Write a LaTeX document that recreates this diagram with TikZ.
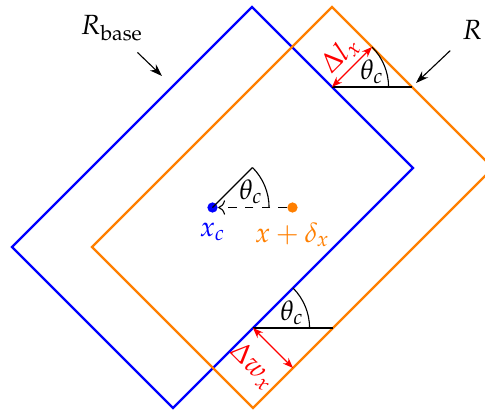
\documentclass[tikz,border=0pt]{standalone}
\usepackage{mathpazo}
\usetikzlibrary{arrows.meta, positioning, calc}
\definecolor{basecol}{RGB}{0, 0, 255}
\definecolor{shiftcol}{RGB}{255, 127, 0}

\begin{document}
\begin{tikzpicture}[
      x=0.36pt, y=0.36pt,
      rect/.style={line width=0.8pt, line join=miter},
      pointer/.style={-{Stealth[length=1.6mm, width=1.1mm]}, thin, shorten <=1pt},
      gap/.style={{Stealth[length=1.3mm, width=1mm]}-{Stealth[length=1.3mm, width=1mm]}, red, thin},
      dot/.style={circle, inner sep=0pt, minimum size=1.3mm}
    ]
    \useasboundingbox (0,0) rectangle (485,412);

    % the two boxes
    \coordinate (c)  at (212.5,204.5);
    \coordinate (cs) at (292.5,204.5);
    \draw[rect, basecol] (252,405) -- (413,244) -- (173,4) -- (12,165) -- cycle;
    \begin{scope}
      \clip (0,0) rectangle (485,412);
      \draw[rect, shiftcol] (332,405) -- (493,244) -- (253,4) -- (92,165) -- cycle;
    \end{scope}

    % centres
    \node[dot, fill=basecol]  (xc) at (c)  {};
    \node[dot, fill=shiftcol] (xs) at (cs) {};
    \node[basecol, below=0pt of xc] (xclab) {$x_c$};
    \node[shiftcol, below=0pt of xs] (xslab) {$x+\delta_x$};
    \coordinate (cr) at ($(c)+(45:56.57)$);
    \draw (xc.center) -- (cr);
    \draw ([shift={(0:56.57)}]c) arc[start angle=0, end angle=45, radius=56.57];
    \draw[dashed, -{To}] (xs) -- (xc);
    \node (th0) at (251,220) {$\theta_c$};

    % length gap (top)
    \coordinate (a1) at (332,325);
    \coordinate (b1) at (412,325);
    \coordinate (p1) at ($(a1)+(45:56.57)$);
    \draw (a1) -- (b1);
    \draw ([shift={(0:56.57)}]a1) arc[start angle=0, end angle=45, radius=56.57];
    \draw[gap] (a1) -- (p1);
    \node[red, rotate=45] (dl) at (340,357) {$\Delta l_x$};
    \node (th1) at (372,340) {$\theta_c$};

    % width gap (bottom)
    \coordinate (a2) at (253,84);
    \coordinate (b2) at (333,84);
    \coordinate (p2) at ($(a2)+(-45:56.57)$);
    \draw (a2) -- (b2);
    \draw ([shift={(0:56.57)}]a2) arc[start angle=0, end angle=45, radius=56.57];
    \draw[gap] (a2) -- (p2);
    \node[red, rotate=-45] (dw) at (253,46) {$\Delta w_x$};
    \node (th2) at (292,99) {$\theta_c$};

    % box names
    \node (rbase) at (112,384) {$R_{\mathrm{base}}$};
    \coordinate (rbasetip) at (162,336);
    \draw[pointer] (rbase) -- (rbasetip);
    \node (rshift) at (472,382) {$R$};
    \coordinate (rtip) at (416,329);
    \draw[pointer] (rshift) -- (rtip);
  \end{tikzpicture}
\end{document}
